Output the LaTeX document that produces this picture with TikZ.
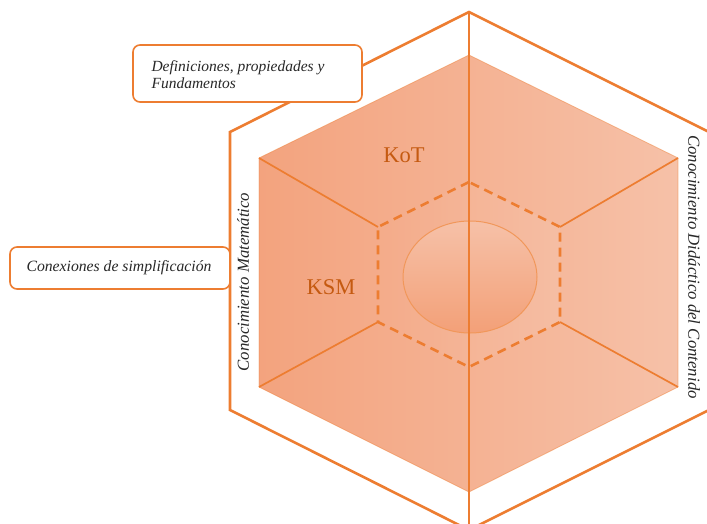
\documentclass[tikz,border=0pt]{standalone}
\usepackage{fontspec}
\setmainfont{Liberation Serif}
\usetikzlibrary{shapes.geometric}
\begin{document}
\begin{tikzpicture}[x=1pt,y=-1pt]
\definecolor{org}{RGB}{237,125,49}
\definecolor{lbl}{RGB}{197,90,17}
\definecolor{fillL}{RGB}{243,163,126}
\definecolor{fillR}{RGB}{246,193,168}
\definecolor{txt}{RGB}{40,40,40}
\tikzset{
  outerline/.style={draw=org, line width=2.6pt, line join=miter},
  hexline/.style={draw=org, line width=1.7pt},
  faintline/.style={draw=org, line width=0.8pt, draw opacity=0.45},
  axisline/.style={draw=org, line width=1.3pt},
  dashline/.style={draw=org, line width=2.6pt, dash pattern=on 9pt off 6pt},
  tagbox/.style={draw=org, line width=1.6pt, fill=white, rounded corners=7pt},
  sidelabel/.style={font=\fontsize{16.8}{19}\selectfont\itshape, text=txt},
  kname/.style={font=\fontsize{22.5}{26}\selectfont, text=lbl}
}
\useasboundingbox (0,0) rectangle (707,524);
% outer hexagon
\coordinate (oT) at (469,12);
\coordinate (oUL) at (230,132);
\coordinate (oLL) at (230,410);
\coordinate (oB) at (469,530);
\coordinate (oLR) at (709,410);
\coordinate (oUR) at (709,132);
% inner hexagon
\coordinate (iT) at (469,55);
\coordinate (iUL) at (259,158);
\coordinate (iLL) at (259,387);
\coordinate (iB) at (469,492);
\coordinate (iLR) at (678,387);
\coordinate (iUR) at (678,158);
% dashed hexagon
\coordinate (dT) at (469,182);
\coordinate (dUL) at (378,227);
\coordinate (dLL) at (378,322);
\coordinate (dB) at (469,367);
\coordinate (dLR) at (560,322);
\coordinate (dUR) at (560,227);

\draw[outerline] (oT) -- (oUL) -- (oLL) -- (oB) -- (oLR) -- (oUR) -- cycle;
\shade[left color=fillL, right color=fillR] (iT) -- (iUL) -- (iLL) -- (iB) -- (iLR) -- (iUR) -- cycle;
\draw[faintline] (iT) -- (iUL) -- (iLL) -- (iB) -- (iLR) -- (iUR) -- cycle;
\shade[left color=fillL!90!white, right color=fillR!85!white, opacity=0.3] (dT) -- (dUL) -- (dLL) -- (dB) -- (dLR) -- (dUR) -- cycle;
\draw[hexline] (iUL) -- (dUL);
\draw[hexline] (iLL) -- (dLL);
\draw[hexline] (iUR) -- (dUR);
\draw[hexline] (iLR) -- (dLR);
\draw[dashline] (dT) -- (dUL) -- (dLL) -- (dB) -- (dLR) -- (dUR) -- cycle;
\node[ellipse, minimum width=134pt, minimum height=112pt, draw=org!80!white, line width=1pt,
      top color=fillR, bottom color=fillL!92!org] (core) at (470,277) {};
\draw[axisline] (oT) -- (oB);

\node[kname] (kot) at (404,155) {KoT};
\node[kname] (ksm) at (331,287) {KSM};

\node[sidelabel, rotate=90] (cm) at (243,282) {Conocimiento Matemático};
\node[sidelabel, rotate=-90] (cdc) at (694,267) {Conocimiento Didáctico del Contenido};

\draw[tagbox] (133,45) rectangle (362,102);
\node[font=\fontsize{15.5}{17.5}\selectfont\itshape, text=txt, align=left, anchor=north west] (def) at (148,57)
  {Definiciones, propiedades y\\Fundamentos};
\draw[tagbox] (10,247) rectangle (230,289);
\node[font=\fontsize{15.7}{18}\selectfont\itshape, text=txt] (con) at (119,268) {Conexiones de simplificación};
\end{tikzpicture}
\end{document}
